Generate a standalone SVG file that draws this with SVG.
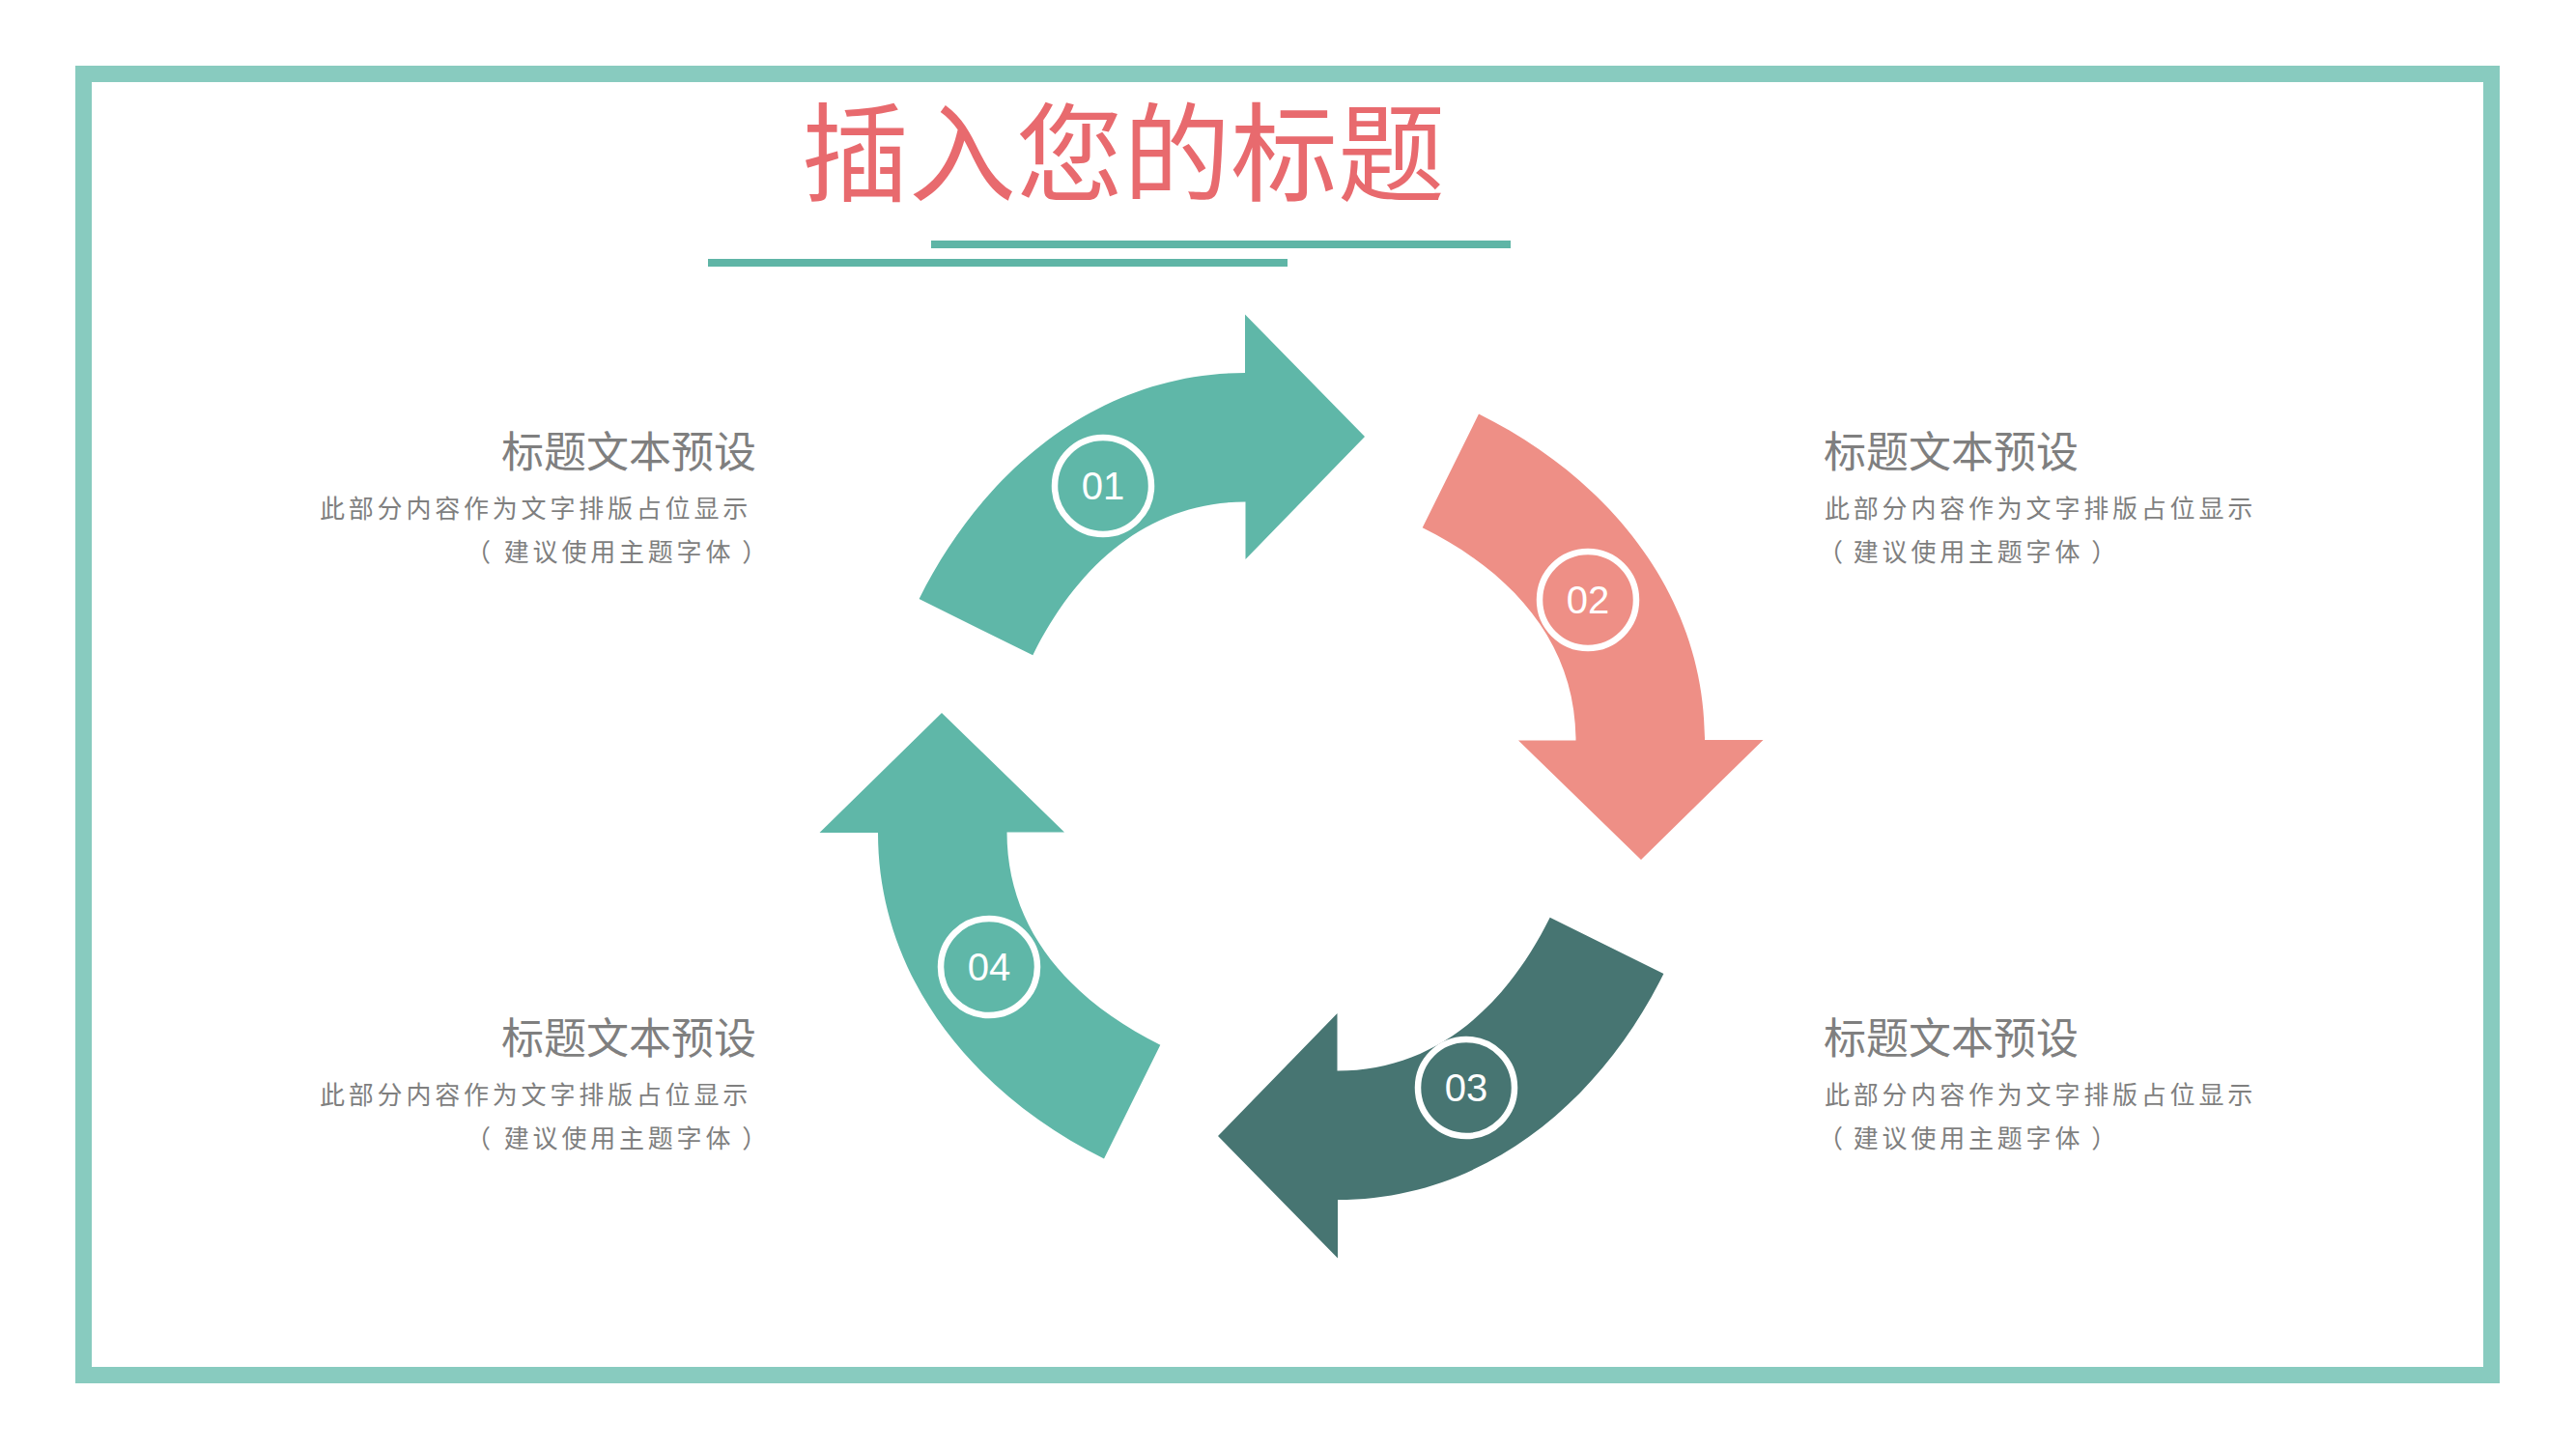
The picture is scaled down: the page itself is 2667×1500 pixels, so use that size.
<svg xmlns="http://www.w3.org/2000/svg" xmlns:xlink="http://www.w3.org/1999/xlink" width="2667" height="1500" viewBox="0 0 2667 1500">
  <style>
    .cjk { font-family: "Noto Sans CJK SC", "Noto Sans", sans-serif; }
    .head { font-size: 44px; fill: #7f7f7f; }
    .body { font-size: 26px; fill: #7f7f7f; letter-spacing: 3.8px; }
    .num { font-family: "Liberation Sans", Arial, sans-serif; font-size: 40px; fill: #ffffff; text-anchor: middle; }
    .ring { fill: none; stroke: #ffffff; stroke-width: 6.5; }
  </style>
  <defs>
    <path id="arrowShape" d="M 951.6 620 C 1018.2 485.6 1139 386 1289 386 L 1289 325.5 L 1413 452 L 1289.5 579 L 1289.5 519.5 C 1189.5 519.5 1115.9 584.2 1069.3 678.3 Z"/>
  </defs>
  <rect x="0" y="0" width="2667" height="1500" fill="#ffffff"/>
  <rect id="frame" x="86.5" y="76.5" width="2493" height="1347" fill="none" stroke="#88cbbf" stroke-width="17"/>

  <g id="title">
    <text class="cjk" x="830" y="200" font-size="111" fill="#e86a6e">插入您的标题</text>
    <rect x="964" y="249" width="600" height="8" fill="#5fb5a6"/>
    <rect x="733" y="268" width="600" height="8" fill="#5fb5a6"/>
  </g>

  <g id="arrows">
    <g id="node-01">
      <use xlink:href="#arrowShape" fill="#5fb7a8"/>
      <circle class="ring" cx="1142" cy="503" r="50"/>
      <text class="num" x="1142" y="517">01</text>
    </g>
    <g id="node-02">
      <use xlink:href="#arrowShape" fill="#ee8f86" transform="rotate(90 1337 814)"/>
      <circle class="ring" cx="1644" cy="621" r="50"/>
      <text class="num" x="1644" y="635">02</text>
    </g>
    <g id="node-03">
      <use xlink:href="#arrowShape" fill="#477572" transform="rotate(180 1337 814)"/>
      <circle class="ring" cx="1518" cy="1126" r="50"/>
      <text class="num" x="1518" y="1140">03</text>
    </g>
    <g id="node-04">
      <use xlink:href="#arrowShape" fill="#5fb7a8" transform="rotate(270 1337 814)"/>
      <circle class="ring" cx="1024" cy="1001" r="50"/>
      <text class="num" x="1024" y="1015">04</text>
    </g>
  </g>

  <g id="text-top-left" class="cjk">
    <text class="head" x="519" y="484">标题文本预设</text>
    <text class="body" x="331" y="536">此部分内容作为文字排版占位显示</text>
    <text class="body" x="482" y="581">（<tspan dx="10">建议使用主题字体</tspan><tspan dx="8">）</tspan></text>
  </g>
  <g id="text-top-right" class="cjk">
    <text class="head" x="1888" y="484">标题文本预设</text>
    <text class="body" x="1889" y="536">此部分内容作为文字排版占位显示</text>
    <text class="body" x="1882" y="581">（<tspan dx="7">建议使用主题字体</tspan><tspan dx="8">）</tspan></text>
  </g>
  <g id="text-bottom-left" class="cjk">
    <text class="head" x="519" y="1091">标题文本预设</text>
    <text class="body" x="331" y="1143">此部分内容作为文字排版占位显示</text>
    <text class="body" x="482" y="1188">（<tspan dx="10">建议使用主题字体</tspan><tspan dx="8">）</tspan></text>
  </g>
  <g id="text-bottom-right" class="cjk">
    <text class="head" x="1888" y="1091">标题文本预设</text>
    <text class="body" x="1889" y="1143">此部分内容作为文字排版占位显示</text>
    <text class="body" x="1882" y="1188">（<tspan dx="7">建议使用主题字体</tspan><tspan dx="8">）</tspan></text>
  </g>
</svg>
